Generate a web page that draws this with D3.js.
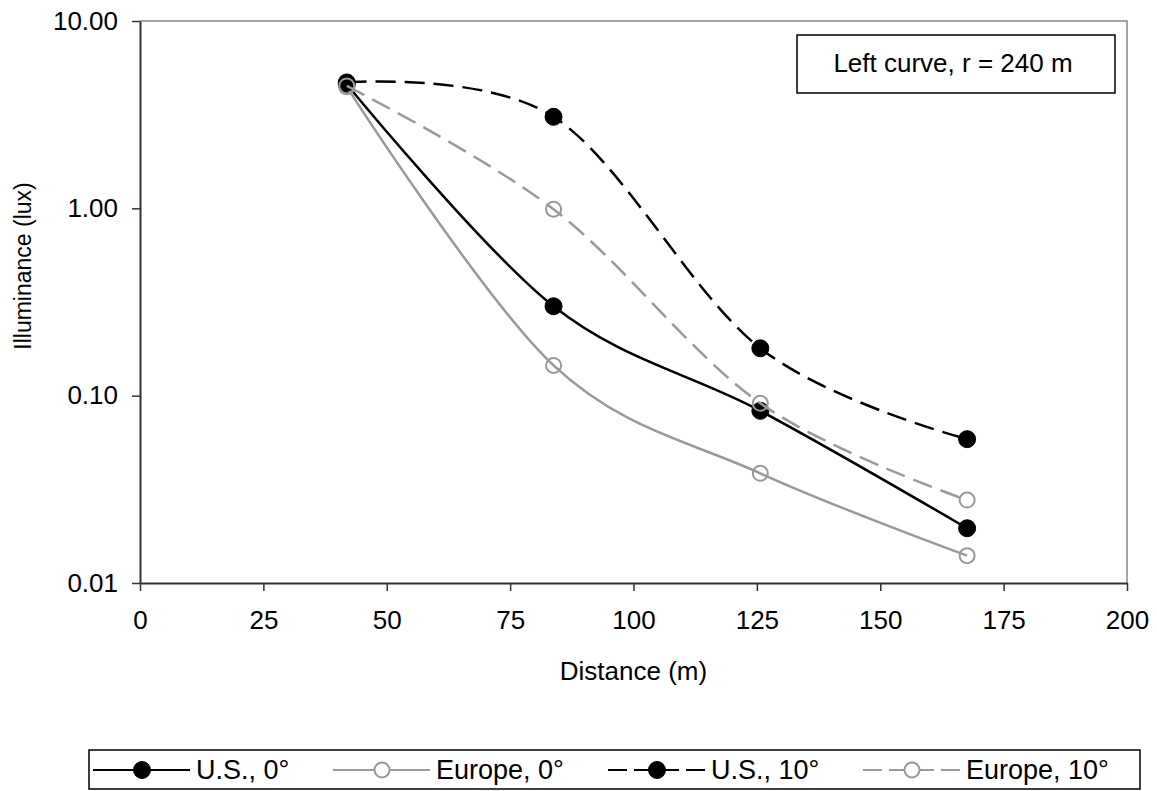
<!DOCTYPE html>
<html>
<head>
<meta charset="utf-8">
<script src="https://cdn.jsdelivr.net/npm/d3@7"></script>
<style>
  body { margin: 0; background: #fff; }
  svg { display: block; font-family: "Liberation Sans", Arial, sans-serif; }
</style>
</head>
<body>
<script>
// ----- Data -----
const distances = [41.9, 83.8, 125.7, 167.6];
const seriesNames = ["U.S., 0°", "Europe, 0°", "U.S., 10°", "Europe, 10°"];
const usZero = [4.6, 0.30, 0.083, 0.0196];
const europeZero = [4.45, 0.145, 0.0385, 0.0140];
const usTen = [4.7, 3.08, 0.179, 0.0586];
const europeTen = [4.5, 0.99, 0.091, 0.0277];
const xTicks = [0, 25, 50, 75, 100, 125, 150, 175, 200];
const yTicks = [0.01, 0.1, 1, 10];
const noteText = "Left curve, r = 240 m";

const W = 1157, H = 791;
const margin = { left: 140, right: 30, top: 21, bottom: 208 };
const fontSize = 26;

const series = [
    { name: seriesNames[0], values: usZero,     color: "#000", dash: null,    filled: true },
    { name: seriesNames[1], values: europeZero, color: "#999", dash: null,    filled: false },
    { name: seriesNames[2], values: usTen,      color: "#000", dash: "20,9", filled: true },
    { name: seriesNames[3], values: europeTen,  color: "#999", dash: "20,9", filled: false }
];

const svg = d3.select("body").append("svg")
    .attr("width", W)
    .attr("height", H);

// scales
const x = d3.scaleLinear()
    .domain([0, 200])
    .range([margin.left, W - margin.right]);
const y = d3.scaleLog()
    .domain([0.01, 10])
    .range([H - margin.bottom, margin.top]);

// plot frame (top/right in grey)
svg.append("path")
    .attr("d", `M${x(0)},${y(10)}H${x(200)}V${y(0.01)}`)
    .attr("fill", "none")
    .attr("stroke", "#888")
    .attr("stroke-width", 1.5);

// axes
const xAxis = svg.append("g")
    .attr("transform", `translate(0,${y(0.01)})`)
    .call(d3.axisBottom(x).tickValues(xTicks).tickSize(8).tickPadding(20).tickSizeOuter(0));
const yAxis = svg.append("g")
    .attr("transform", `translate(${x(0)},0)`)
    .call(d3.axisLeft(y).tickValues(yTicks).tickFormat(d3.format(".2f")).tickSize(8).tickPadding(14).tickSizeOuter(0));

[xAxis, yAxis].forEach(a => {
    a.select(".domain").attr("stroke", "#333").attr("stroke-width", 2);
    a.selectAll(".tick line").attr("stroke", "#333").attr("stroke-width", 1.5);
    a.selectAll(".tick text")
        .attr("fill", "#000")
        .style("font-family", "Liberation Sans, Arial, sans-serif")
        .style("font-size", fontSize + "px");
});

// axis titles
svg.append("text")
    .attr("x", (x(0) + x(200)) / 2)
    .attr("y", 680)
    .attr("text-anchor", "middle")
    .style("font-size", fontSize + "px")
    .text("Distance (m)");

svg.append("text")
    .attr("transform", `translate(31, 266) rotate(-90)`)
    .attr("text-anchor", "middle")
    .style("font-size", (fontSize - 3) + "px")
    .text("Illuminance (lux)");

// curves
const line = d3.line()
    .x((d, i) => x(distances[i]))
    .y(d => y(d))
    .curve(d3.curveCatmullRom.alpha(0));

series.forEach(s => {
    svg.append("path")
        .datum(s.values)
        .attr("d", line)
        .attr("fill", "none")
        .attr("stroke", s.color)
        .attr("stroke-width", 2.5)
        .attr("stroke-dasharray", s.dash);

    svg.selectAll(null)
        .data(s.values)
        .enter()
        .append("circle")
            .attr("cx", (d, i) => x(distances[i]))
            .attr("cy", d => y(d))
            .attr("r", s.filled ? 8.5 : 7.5)
            .attr("fill", s.filled ? "#000" : "none")
            .attr("stroke", s.color)
            .attr("stroke-width", s.filled ? 1 : 2);
});

// note box
const note = svg.append("g");
note.append("rect")
    .attr("x", 797).attr("y", 35)
    .attr("width", 318).attr("height", 58)
    .attr("fill", "#fff")
    .attr("stroke", "#000")
    .attr("stroke-width", 1.5);
note.append("text")
    .attr("x", 953).attr("y", 72)
    .attr("text-anchor", "middle")
    .style("font-size", fontSize + "px")
    .text(noteText);

// legend
const legend = svg.append("g");
legend.append("rect")
    .attr("x", 89).attr("y", 750)
    .attr("width", 1051).attr("height", 39)
    .attr("fill", "#fff")
    .attr("stroke", "#000")
    .attr("stroke-width", 1.5);

const legendX = [93, 333, 608, 863];
const ly = 770;
series.forEach((s, i) => {
    const g = legend.append("g").attr("transform", `translate(${legendX[i]},${ly})`);
    g.append("line")
        .attr("x1", 0).attr("x2", 97)
        .attr("stroke", s.color)
        .attr("stroke-width", 2)
        .attr("stroke-dasharray", s.dash ? "19,7" : null);
    g.append("circle")
        .attr("cx", 49)
        .attr("r", s.filled ? 8.5 : 7.5)
        .attr("fill", s.filled ? "#000" : "#fff")
        .attr("stroke", s.color)
        .attr("stroke-width", s.filled ? 1 : 2);
    g.append("text")
        .attr("x", 103)
        .attr("y", 9)
        .style("font-size", (fontSize + 1) + "px")
        .text(s.name);
});
</script>
</body>
</html>
